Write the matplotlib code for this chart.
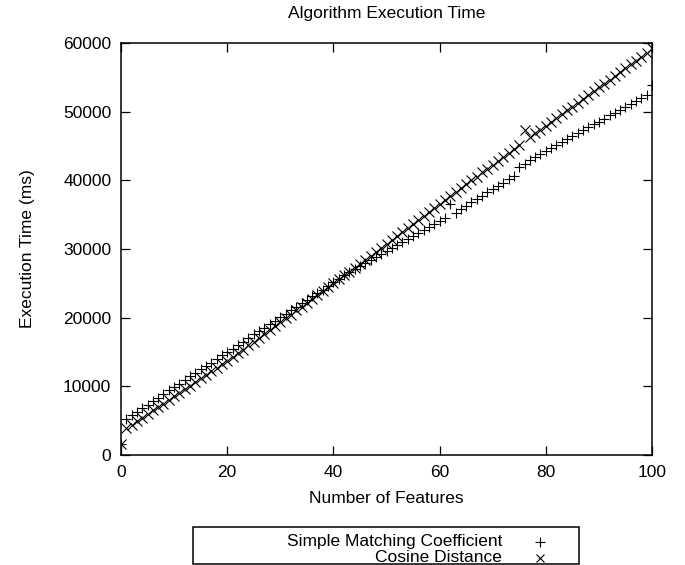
import numpy as np
import matplotlib
matplotlib.use('Agg')
import matplotlib.pyplot as plt
from matplotlib.patches import Rectangle
from matplotlib.lines import Line2D

plt.rcParams['font.family'] = ['Liberation Sans', 'DejaVu Sans']

# data (ms per feature count)
features = list(range(101))

simple_matching = [
    1600, 5300, 5800, 6300, 6800, 7350, 7850, 8350, 8900, 9400,
    9900, 10400, 10950, 11450, 11950, 12500, 12950, 13450, 13950, 14500,
    15000, 15500, 16000, 16500, 17050, 17550, 18050, 18550, 19050, 19550,
    20050, 20600, 21100, 21600, 22100, 22600, 23100, 23600, 24100, 24650,
    25150, 25650, 26150, 26650, 27100, 27550, 28000, 28400, 28850, 29300,
    29700, 30150, 30600, 31000, 31450, 31900, 32350, 32750, 33200, 33600,
    34050, 34500, 36600, 35300, 35800, 36300, 36800, 37250, 37750, 38250,
    38700, 39200, 39650, 40150, 40600, 42000, 42450, 42900, 43350, 43800,
    44250, 44700, 45100, 45550, 46000, 46400, 46850, 47300, 47700, 48150,
    48550, 49000, 49450, 49850, 50300, 50700, 51150, 51550, 52000, 52400,
    53900,
]

cosine_distance = [
    1600, 3900, 4400, 4900, 5450, 5950, 6500, 7000, 7500, 8050,
    8550, 9100, 9600, 10100, 10650, 11150, 11700, 12200, 12700, 13250,
    13750, 14300, 14800, 15350, 15950, 16500, 17050, 17600, 18200, 18750,
    19350, 19900, 20450, 21050, 21600, 22150, 22750, 23300, 23850, 24450,
    25000, 25600, 26150, 26700, 27300, 27850, 28450, 29000, 29600, 30150,
    30750, 31350, 31900, 32500, 33050, 33650, 34200, 34800, 35400, 35950,
    36550, 37100, 37700, 38250, 38850, 39400, 40000, 40550, 41150, 41700,
    42300, 42850, 43450, 44000, 44600, 45150, 47300, 46300, 46850, 47400,
    47950, 48500, 49100, 49650, 50200, 50750, 51300, 51850, 52400, 53000,
    53550, 54100, 54650, 55200, 55800, 56350, 56900, 57450, 58000, 58600,
    59200,
]

series_labels = ['Simple Matching Coefficient', 'Cosine Distance']
series_markers = ['+', 'x']

W, H = 685, 565
fig = plt.figure(figsize=(W / 100, H / 100), dpi=100, facecolor='white')
ax = fig.add_axes([121 / W, 1 - 455 / H, 531 / W, 412 / H])

ax.plot(features, simple_matching, linestyle='none', marker='+', color='black',
        markersize=7.5, markeredgewidth=0.8)
ax.plot(features, cosine_distance, linestyle='none', marker='x', color='black',
        markersize=6.5, markeredgewidth=0.8)

ax.set_xlim(0, 100)
ax.set_ylim(0, 60000)
ax.set_xticks(range(0, 101, 20))
ax.set_yticks(range(0, 60001, 10000))
ax.tick_params(direction='in', top=True, right=True, length=6.5, width=0.9,
               labelsize=12.5, pad=7)
for sp in ax.spines.values():
    sp.set_linewidth(1.1)

ax.set_xlabel('Number of Features', fontsize=12.5, labelpad=8)
ax.set_ylabel('Execution Time (ms)', fontsize=12.5, labelpad=20)
ax.set_title('Algorithm Execution Time', fontsize=12.5, pad=18)

# gnuplot style key below the plot: text right aligned, sample on the right
fig.add_artist(Rectangle((193 / W, 1 - 564 / H), 386 / W, 37 / H,
                         transform=fig.transFigure, fill=False,
                         edgecolor='black', linewidth=1.1))
for i, (lab, mk) in enumerate(zip(series_labels, series_markers)):
    yy = 1 - (541.5 + 16.5 * i) / H
    fig.text(502 / W, yy, lab, ha='right', va='center', fontsize=12.5)
    fig.add_artist(Line2D([540 / W], [yy], transform=fig.transFigure,
                          marker=mk, color='black', linestyle='none',
                          markersize=7 if mk == '+' else 6,
                          markeredgewidth=0.8))

fig.savefig('out.png', dpi=100, facecolor='white')
